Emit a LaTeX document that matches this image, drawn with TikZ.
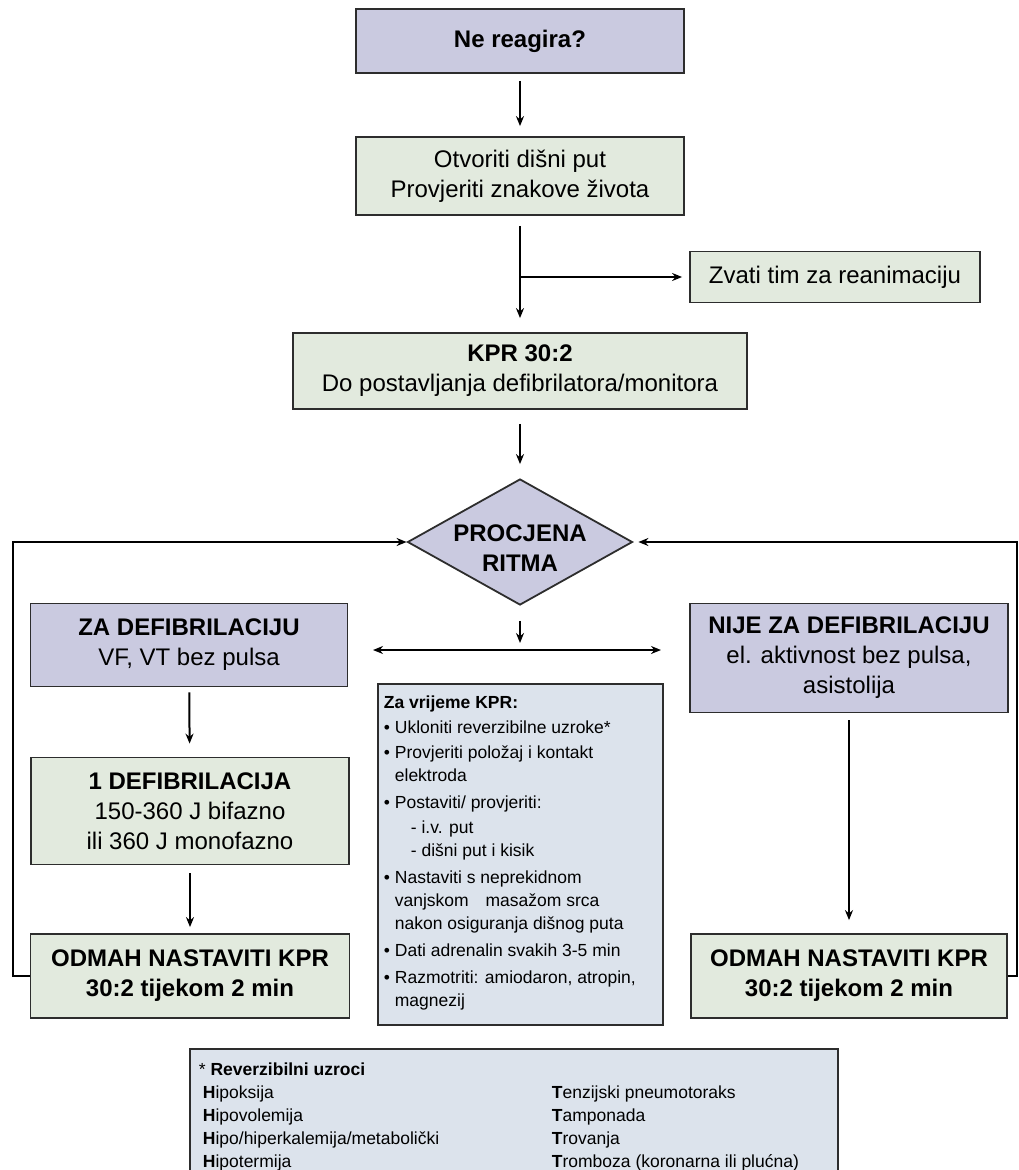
\documentclass[tikz,border=0pt]{standalone}
\usepackage{fontspec}
\setmainfont{Liberation Sans}
\usetikzlibrary{shapes.geometric,arrows.meta}
\definecolor{lavfill}{RGB}{202,202,224}
\definecolor{grnfill}{RGB}{226,234,222}
\definecolor{blufill}{RGB}{220,227,236}
\definecolor{edge}{RGB}{45,45,45}
\newcommand\itembul{\makebox[11pt][l]{•}}
\newcommand\itemind{\hspace*{11pt}}
\tikzset{
  box/.style={draw=edge,line width=1.8pt,inner sep=0pt,align=center,
    font=\fontsize{24}{30}\selectfont},
  lav/.style={box,fill=lavfill},
  grn/.style={box,fill=grnfill},
  note/.style={draw=edge,line width=1.8pt,fill=blufill,inner sep=6pt,anchor=north west}
}
\begin{document}
\begin{tikzpicture}[x=1pt,y=-1pt]
  \useasboundingbox (0,0) rectangle (1019,1170);
  \clip (0,0) rectangle (1019,1170);
  \draw
    (520,41) node[lav,minimum width=328pt,minimum height=64pt] (ask) {\textbf{Ne reagira?}}
    (520,176) node[grn,minimum width=328pt,minimum height=78pt] (open) {Otvoriti dišni put\\Provjeriti znakove života}
    (835,277) node[grn,minimum width=290pt,minimum height=51pt] (call) {Zvati tim za reanimaciju}
    (520,371) node[grn,minimum width=454pt,minimum height=76pt] (cpr) {\textbf{KPR 30:2}\\Do postavljanja defibrilatora/monitora}
    (520,542) node[lav,diamond,aspect=1.79,minimum width=225pt,minimum height=126pt,
      label={[yshift=-6pt,align=center,font=\fontsize{24}{30}\selectfont\bfseries]center:PROCJENA\\RITMA}] (rhythm) {}
    (189,645) node[lav,minimum width=317pt,minimum height=83pt] (shock) {\textbf{ZA DEFIBRILACIJU}\\VF, VT bez pulsa}
    (849,658) node[lav,minimum width=318pt,minimum height=109pt] (noshock) {\textbf{NIJE ZA DEFIBRILACIJU}\\el. aktivnost bez pulsa,\\asistolija}
    (190,811) node[grn,minimum width=318pt,minimum height=107pt] (defib) {\textbf{1 DEFIBRILACIJA}\\150-360 J bifazno\\ili 360 J monofazno}
    (190,976) node[grn,minimum width=319pt,minimum height=84pt] (resumeL) {\textbf{ODMAH NASTAVITI KPR}\\\textbf{30:2 tijekom 2 min}}
    (849,976) node[grn,minimum width=316pt,minimum height=84pt] (resumeR) {\textbf{ODMAH NASTAVITI KPR}\\\textbf{30:2 tijekom 2 min}}
    (377,683) node[note] (during) {\begin{minipage}[t][329pt][t]{273pt}\fontsize{17.5}{23}\selectfont\raggedright
      \vspace*{6pt}\textbf{Za vrijeme KPR:}\\[2pt]
      \itembul Ukloniti reverzibilne uzroke*\\[2pt]
      \itembul Provjeriti položaj i kontakt\\
      \itemind elektroda\\[4pt]
      \itembul Postaviti/ provjeriti:\\[2pt]
      \hspace*{27pt}- i.v. put\\
      \hspace*{27pt}- dišni put i kisik\\[4pt]
      \itembul Nastaviti s neprekidnom\\
      \itemind vanjskom\hspace{12pt} masažom srca\\
      \itemind nakon osiguranja dišnog puta\\[4pt]
      \itembul Dati adrenalin svakih 3-5 min\\[4pt]
      \itembul Razmotriti: amiodaron, atropin,\\
      \itemind magnezij
    \end{minipage}}
    (189,1048) node[note,inner xsep=13pt,inner ysep=14pt] (causes) {\begin{minipage}[t][140pt][t]{622pt}\fontsize{17.5}{23}\selectfont
      \hspace*{-4pt}* \textbf{Reverzibilni uzroci}\\
      \makebox[349pt][l]{\textbf{H}ipoksija}\textbf{T}enzijski pneumotoraks\\
      \makebox[349pt][l]{\textbf{H}ipovolemija}\textbf{T}amponada\\
      \makebox[349pt][l]{\textbf{H}ipo/hiperkalemija/metabolički}\textbf{T}rovanja\\
      \makebox[349pt][l]{\textbf{H}ipotermija}\textbf{T}romboza (koronarna ili plućna)
    \end{minipage}};
  \coordinate (fork) at (520,277);
  \coordinate (split) at (520,650);
  \coordinate (splitL) at (373,650);
  \coordinate (splitR) at (661,650);
  \coordinate (loopL) at (13,542);
  \coordinate (loopR) at (1017,542);
  \begin{scope}[line width=2pt,-{Stealth[length=10pt,width=8pt]}]
    \draw[shorten <=7pt,shorten >=10pt] (ask) to (open);
    \draw[-,shorten <=10pt] (open) to (fork);
    \draw[shorten >=14pt] (fork) to (cpr);
    \draw[shorten >=7pt] (fork) to (call);
    \draw[shorten <=14pt,shorten >=14pt] (cpr) to (rhythm);
    \draw[shorten <=15pt,shorten >=7pt] (rhythm) to (split);
    \draw[{Stealth[length=10pt,width=8pt]}-{Stealth[length=10pt,width=8pt]}] (splitL) to (splitR);
    \draw[shorten <=5pt,shorten >=13pt] (shock) to (defib);
    \draw[shorten <=8pt,shorten >=6pt] (defib) to (resumeL);
    \draw[shorten <=7pt,shorten >=13pt] (noshock) to (resumeR);
    \draw (resumeL.west) -| (loopL) -- (rhythm.west);
    \draw[shorten >=5pt] (resumeR.east) -| (loopR) -- (rhythm.east);
  \end{scope}
\end{tikzpicture}
\end{document}
